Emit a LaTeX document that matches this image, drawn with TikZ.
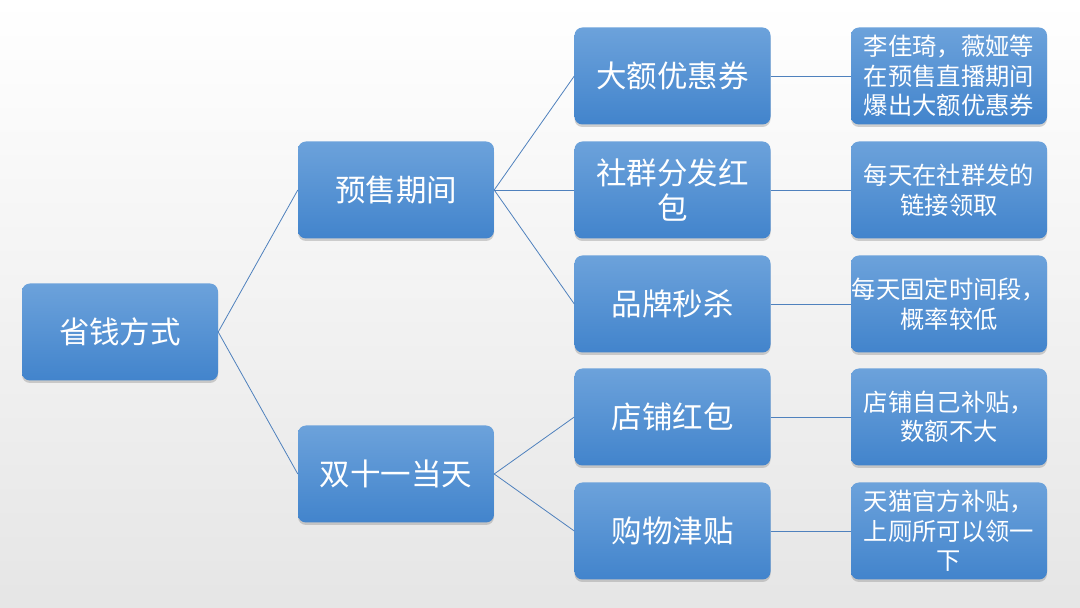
\documentclass[tikz,border=0pt]{standalone}
\usepackage{fontspec}
\newfontfamily\cjk{Noto Sans CJK SC}
\usetikzlibrary{shadows}
\definecolor{boxtop}{RGB}{108,162,219}
\definecolor{boxbot}{RGB}{66,132,204}
\definecolor{linkc}{RGB}{79,129,189}
\tikzset{
  box/.style={rectangle, rounded corners=8pt, minimum width=196pt, minimum height=97pt,
    inner sep=0pt, top color=boxtop, bottom color=boxbot, draw=none, text=white,
    align=center, font=\cjk\fontsize{30.5}{35}\selectfont,
    drop shadow={opacity=0.35, shadow xshift=0pt, shadow yshift=-2.5pt}},
  leaf/.style={box, font=\cjk\fontsize{24.3}{29.5}\selectfont},
  link/.style={draw=linkc, line width=0.8pt}
}
\begin{document}
\begin{tikzpicture}[x=1pt,y=1pt]
\shade[top color=white, bottom color=black!10] (0,0) rectangle (1080,608);
\useasboundingbox (0,0) rectangle (1080,608);
\node[box] (root) at (120,276) {省钱方式};
\node[box] (pre) at (396,418) {预售期间};
\node[box] (d11) at (396,134) {双十一当天};
\node[box] (b1) at (672.5,532) {大额优惠券};
\node[box] (b2) at (672.5,418) {社群分发红\\包};
\node[box] (b3) at (672.5,304) {品牌秒杀};
\node[box] (b4) at (672.5,191) {店铺红包};
\node[box] (b5) at (672.5,77) {购物津贴};
\node[leaf] (c1) at (949,532) {李佳琦，薇娅等\\在预售直播期间\\爆出大额优惠券};
\node[leaf] (c2) at (949,418) {每天在社群发的\\链接领取};
\node[leaf] (c3) at (949,304) {每天固定时间段，\\概率较低};
\node[leaf] (c4) at (949,191) {店铺自己补贴，\\数额不大};
\node[leaf] (c5) at (949,77) {天猫官方补贴，\\上厕所可以领一\\下};
\draw[link] (root.east) -- (pre.west);
\draw[link] (root.east) -- (d11.west);
\draw[link] (pre.east) -- (b1.west);
\draw[link] (pre.east) -- (b2.west);
\draw[link] (pre.east) -- (b3.west);
\draw[link] (d11.east) -- (b4.west);
\draw[link] (d11.east) -- (b5.west);
\draw[link] (b1.east) -- (c1.west);
\draw[link] (b2.east) -- (c2.west);
\draw[link] (b3.east) -- (c3.west);
\draw[link] (b4.east) -- (c4.west);
\draw[link] (b5.east) -- (c5.west);
\end{tikzpicture}
\end{document}
